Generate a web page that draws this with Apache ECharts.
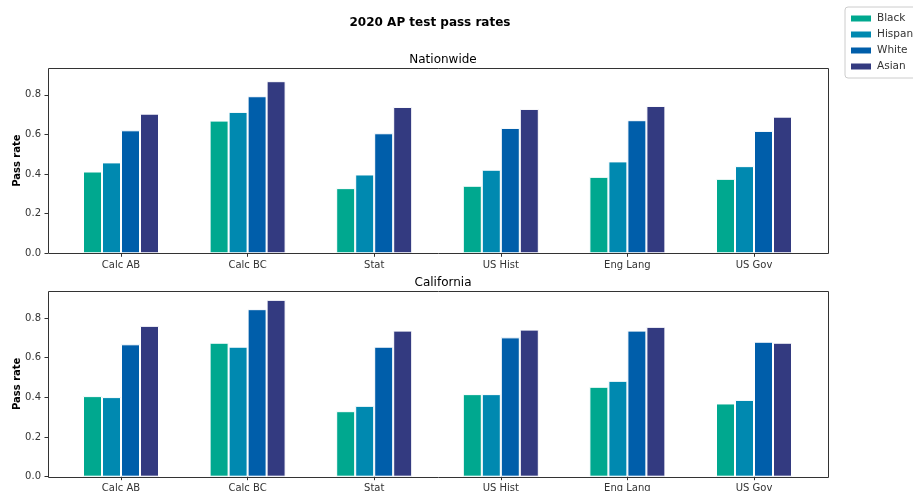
<!DOCTYPE html>
<html>
<head>
<meta charset="utf-8">
<script src="https://cdn.jsdelivr.net/npm/echarts@6/dist/echarts.min.js"></script>
<style>
  html, body { margin: 0; padding: 0; background: #fff; }
  #chart { width: 913px; height: 491px; }
</style>
</head>
<body>
<div id="chart"></div>
<script>
// subjects along the x axis
const subjects = ['Calc AB', 'Calc BC', 'Stat', 'US Hist', 'Eng Lang', 'US Gov']
const groups = ['Black', 'Hispanic', 'White', 'Asian']

// Nationwide pass rates
const natBlack = [0.413, 0.670, 0.329, 0.341, 0.386, 0.376]
const natHispanic = [0.459, 0.714, 0.398, 0.422, 0.464, 0.440]
const natWhite = [0.621, 0.793, 0.606, 0.633, 0.672, 0.618]
const natAsian = [0.705, 0.869, 0.739, 0.729, 0.744, 0.690]

// California pass rates
const caBlack = [0.406, 0.675, 0.330, 0.416, 0.453, 0.369]
const caHispanic = [0.401, 0.655, 0.357, 0.416, 0.483, 0.387]
const caWhite = [0.667, 0.844, 0.655, 0.702, 0.736, 0.680]
const caAsian = [0.760, 0.891, 0.736, 0.741, 0.755, 0.675]

const yTicks = [0, 0.2, 0.4, 0.6, 0.8]

const COLORS = ['#00a88f', '#0089b0', '#005eaa', '#333a80']
const FONT = 'DejaVu Sans'
const INK = '#333333'

const natData = [natBlack, natHispanic, natWhite, natAsian]
const caData = [caBlack, caHispanic, caWhite, caAsian]

/* axes boxes (matplotlib style frame is wider than the category bands) */
const frameLeft = 48
const frameRight = 828
const bandLeft = 57.7
const bandRight = 817.3
const panels = [
  { top: 68, bottom: 253.3, title: 'Nationwide', data: natData },
  { top: 291, bottom: 476.7, title: 'California', data: caData },
]

const grids = panels.map(p => ({
  left: bandLeft,
  right: 913 - bandRight,
  top: p.top,
  height: p.bottom - p.top,
  containLabel: false,
  outerBoundsMode: 'none',
}))

const xAxes = panels.map((p, i) => ({
  type: 'category',
  gridIndex: i,
  data: subjects,
  axisLine: { show: false },
  axisTick: { show: true, alignWithLabel: true, length: 3.5, lineStyle: { color: INK } },
  axisLabel: { color: INK, fontSize: 10, fontFamily: FONT, margin: 7 },
  splitLine: { show: false },
}))

const yAxes = panels.map((p, i) => ({
  type: 'value',
  gridIndex: i,
  min: 0,
  max: 0.9356,
  offset: bandLeft - frameLeft,
  name: 'Pass rate',
  nameLocation: 'middle',
  nameGap: 26,
  nameMoveOverlap: false,
  nameTextStyle: { fontWeight: 'bold', fontSize: 10, fontFamily: FONT, color: '#000' },
  axisLine: { show: false },
  axisTick: { show: true, length: 3.5, lineStyle: { color: INK }, customValues: yTicks },
  axisLabel: {
    color: INK, fontSize: 10, fontFamily: FONT, margin: 7,
    customValues: yTicks,
    formatter: v => v.toFixed(1),
  },
  splitLine: { show: false },
}))

const series = []
panels.forEach((p, i) => {
  groups.forEach((g, k) => {
    series.push({
      type: 'bar',
      name: g,
      xAxisIndex: i,
      yAxisIndex: i,
      data: p.data[k],
      barWidth: 19,
      barGap: '0%',
      itemStyle: { color: COLORS[k], borderColor: '#ffffff', borderWidth: 1 },
      emphasis: { disabled: true },
    })
  })
})

const titles = [
  {
    text: '2020 AP test pass rates',
    left: 425, top: 12, textAlign: 'center',
    textStyle: { fontSize: 12, fontWeight: 'bold', fontFamily: FONT, color: '#000' },
  },
].concat(panels.map(p => ({
  text: p.title,
  left: (frameLeft + frameRight) / 2, top: p.top - 19, textAlign: 'center',
  textStyle: { fontSize: 12, fontWeight: 'normal', fontFamily: FONT, color: '#000' },
})))

const frames = panels.map(p => ({
  type: 'rect',
  silent: true,
  z: 100,
  shape: { x: frameLeft + 0.5, y: Math.round(p.top) + 0.5, width: frameRight - frameLeft, height: Math.round(p.bottom - p.top) },
  style: { fill: 'none', stroke: INK, lineWidth: 1 },
}))

const chart = echarts.init(document.getElementById('chart'), null, { renderer: 'canvas' })
chart.setOption({
  animation: false,
  backgroundColor: '#ffffff',
  title: titles,
  legend: {
    data: groups,
    orient: 'vertical',
    left: 845,
    top: 7,
    itemWidth: 22,
    itemHeight: 8,
    itemGap: 5,
    padding: [6, 6, 6, 4],
    borderColor: '#cccccc',
    borderWidth: 1,
    borderRadius: 3,
    icon: 'rect',
    textStyle: { fontSize: 10.5, fontFamily: FONT, color: INK },
    selectedMode: false,
  },
  grid: grids,
  xAxis: xAxes,
  yAxis: yAxes,
  series: series,
  graphic: frames,
})
</script>
</body>
</html>
